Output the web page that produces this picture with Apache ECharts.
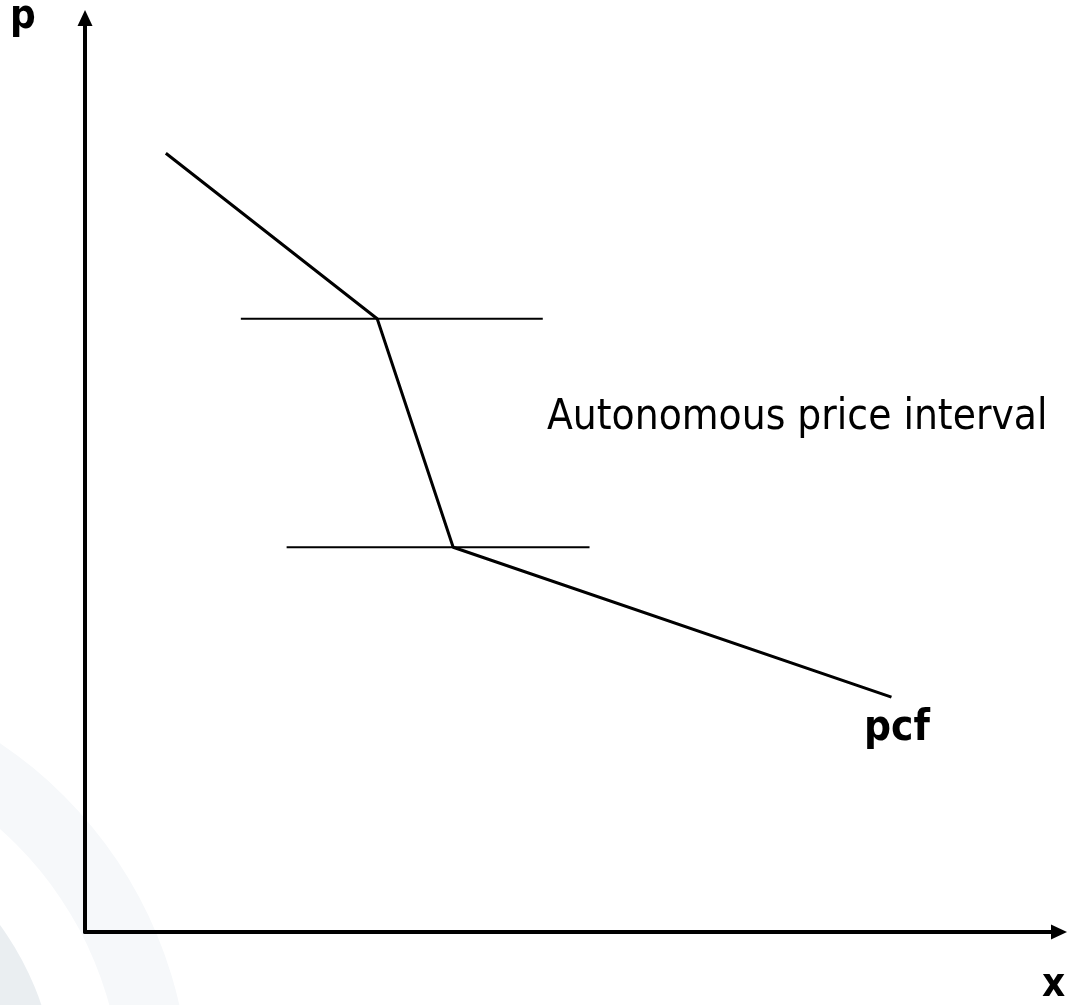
<!DOCTYPE html>
<html>
<head>
<meta charset="utf-8">
<title>Autonomous price interval</title>
<script src="https://cdn.jsdelivr.net/npm/echarts@6/dist/echarts.min.js"></script>
<style>
  html, body { margin: 0; padding: 0; background: #fff; }
  #chart { width: 1070px; height: 1005px; }
</style>
</head>
<body>
<div id="chart"></div>
<script>
// price-consumption function (pcf), kinked, on a 0-100 scale
const pcfX = [8.3, 30.0, 37.8, 82.8]
const pcfY = [85.2, 67.1, 42.1, 25.7]
// bounds of the autonomous price interval
const upperBound = { x: [16.0, 47.0], y: 67.1 }
const lowerBound = { x: [20.7, 51.8], y: 42.1 }

const font = "'DejaVu Sans Condensed', 'DejaVu Sans', sans-serif"

const chart = echarts.init(document.getElementById('chart'))

const hideAxisBits = {
  min: 0,
  max: 100,
  axisTick: { show: false },
  axisLabel: { show: false },
  splitLine: { show: false },
  axisLine: {
    show: true,
    symbol: ['none', 'triangle'],
    symbolSize: [15, 16],
    lineStyle: { color: '#000', width: 4 }
  }
}

chart.setOption({
  animation: false,
  backgroundColor: '#fff',
  grid: { left: 85, right: 11, top: 18, bottom: 73 },
  xAxis: Object.assign({ type: 'value' }, hideAxisBits),
  yAxis: Object.assign({ type: 'value' }, hideAxisBits),
  graphic: [
    // faint decorative arcs in the lower-left corner
    { type: 'ring', z: -10, silent: true, shape: { cx: -240, cy: 1100, r: 430, r0: 362 }, style: { fill: '#f6f8fa' } },
    { type: 'circle', z: -10, silent: true, shape: { cx: -240, cy: 1100, r: 297 }, style: { fill: '#eaeef1' } },
    { type: 'text', left: 10, top: -2, style: { text: 'p', font: 'bold 40px ' + font, fill: '#000' } },
    { type: 'text', left: 1042, top: 966, style: { text: 'x', font: 'bold 40px ' + font, fill: '#000' } },
    { type: 'text', left: 547, top: 397, style: { text: 'Autonomous price interval', font: '42px ' + font, fill: '#000' } },
    { type: 'text', left: 864, top: 708, style: { text: 'pcf', font: 'bold 42px ' + font, fill: '#000' } }
  ],
  series: [
    {
      name: 'pcf',
      type: 'line',
      symbol: 'none',
      lineStyle: { color: '#000', width: 3 },
      data: pcfX.map((x, i) => [x, pcfY[i]])
    },
    {
      name: 'upper',
      type: 'line',
      symbol: 'none',
      lineStyle: { color: '#000', width: 2 },
      data: upperBound.x.map(x => [x, upperBound.y])
    },
    {
      name: 'lower',
      type: 'line',
      symbol: 'none',
      lineStyle: { color: '#000', width: 2 },
      data: lowerBound.x.map(x => [x, lowerBound.y])
    }
  ]
})
</script>
</body>
</html>
